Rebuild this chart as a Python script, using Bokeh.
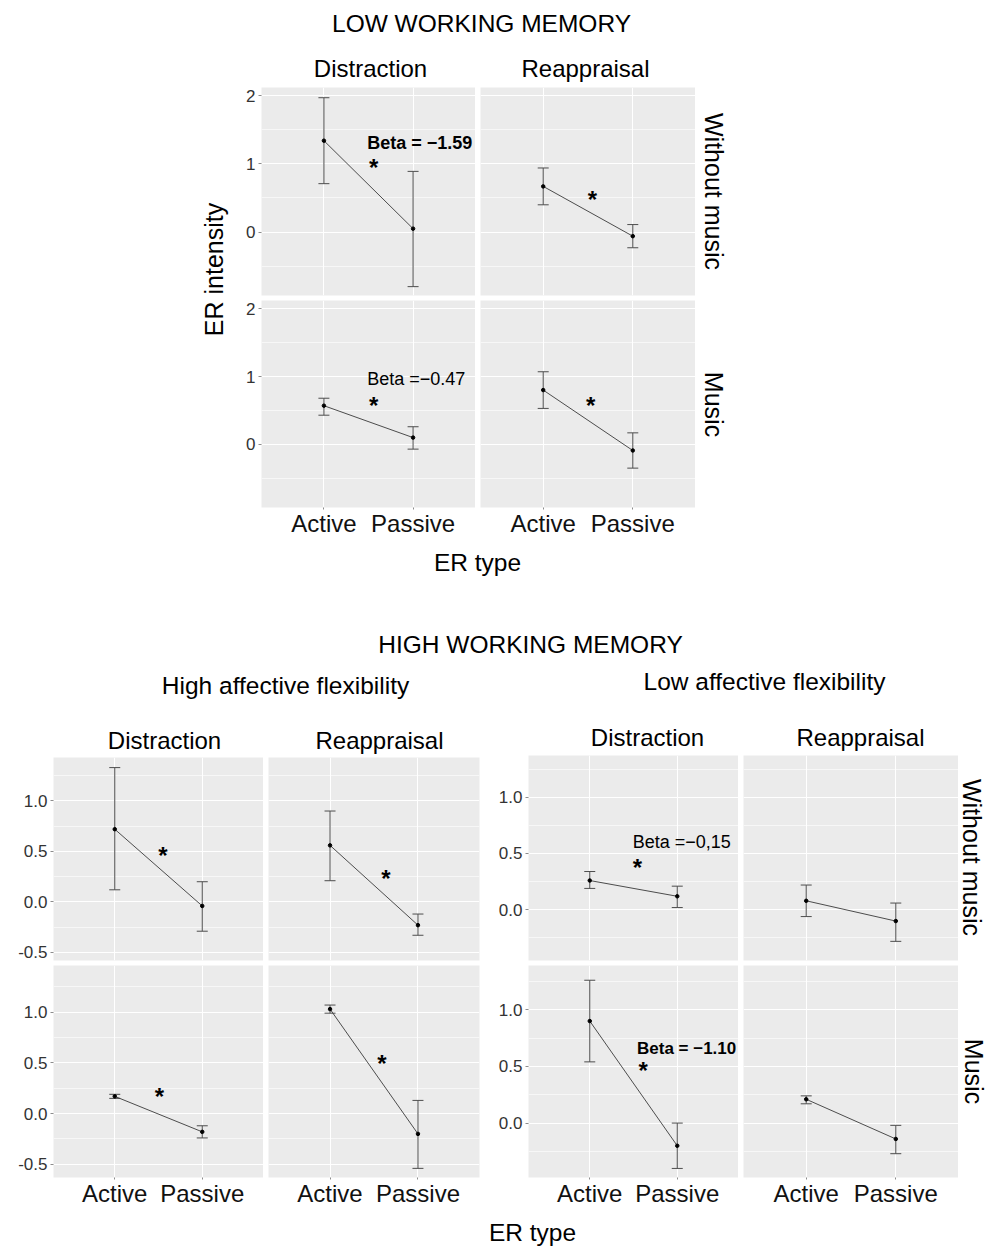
import math
from bokeh.plotting import figure
from bokeh.models import (ColumnDataSource, FactorRange, Range1d, Whisker, TeeHead, Label,
                          Grid, FixedTicker, CategoricalTicker)
from bokeh.layouts import column, row
from bokeh.embed import file_html
from bokeh.resources import INLINE
from bokeh.core.properties import value

FONT = "Liberation Sans"

# ---------------- data ----------------
er_types = ["Active", "Passive"]
strategies = ["Distraction", "Reappraisal"]
music_levels = ["Without music", "Music"]

# LOW WORKING MEMORY
lw_dis_nomusic_mean = [1.34, 0.05]
lw_dis_nomusic_upper = [1.97, 0.89]
lw_dis_nomusic_lower = [0.71, -0.80]
lw_rea_nomusic_mean = [0.67, -0.06]
lw_rea_nomusic_upper = [0.94, 0.11]
lw_rea_nomusic_lower = [0.40, -0.23]
lw_dis_music_mean = [0.57, 0.10]
lw_dis_music_upper = [0.68, 0.26]
lw_dis_music_lower = [0.43, -0.07]
lw_rea_music_mean = [0.80, -0.09]
lw_rea_music_upper = [1.07, 0.17]
lw_rea_music_lower = [0.53, -0.35]

# HIGH WORKING MEMORY - high affective flexibility
hf_dis_nomusic_mean = [0.72, -0.04]
hf_dis_nomusic_upper = [1.33, 0.20]
hf_dis_nomusic_lower = [0.12, -0.29]
hf_rea_nomusic_mean = [0.56, -0.23]
hf_rea_nomusic_upper = [0.90, -0.12]
hf_rea_nomusic_lower = [0.21, -0.33]
hf_dis_music_mean = [0.17, -0.18]
hf_dis_music_upper = [0.19, -0.12]
hf_dis_music_lower = [0.15, -0.24]
hf_rea_music_mean = [1.03, -0.20]
hf_rea_music_upper = [1.07, 0.13]
hf_rea_music_lower = [0.99, -0.54]

# HIGH WORKING MEMORY - low affective flexibility
lf_dis_nomusic_mean = [0.26, 0.12]
lf_dis_nomusic_upper = [0.34, 0.21]
lf_dis_nomusic_lower = [0.19, 0.02]
lf_rea_nomusic_mean = [0.08, -0.10]
lf_rea_nomusic_upper = [0.22, 0.06]
lf_rea_nomusic_lower = [-0.06, -0.28]
lf_dis_music_mean = [0.90, -0.20]
lf_dis_music_upper = [1.26, 0.00]
lf_dis_music_lower = [0.54, -0.40]
lf_rea_music_mean = [0.21, -0.14]
lf_rea_music_upper = [0.24, -0.02]
lf_rea_music_lower = [0.17, -0.27]

# tick values and labels
lw_yticks = [0, 1, 2]
lw_ylabels = ["0", "1", "2"]
lw_yminor = [-0.5, 0.5, 1.5]
hw_yticks = [-0.5, 0.0, 0.5, 1.0]
hw_ylabels = ["-0.5", "0.0", "0.5", "1.0"]
hw_yminor = [-0.25, 0.25, 0.75, 1.25]

# axis limits per facet row
lw_ylim = (-0.93, 2.12)
hf_top_ylim = (-0.58, 1.43)
hf_bot_ylim = (-0.63, 1.46)
lf_top_ylim = (-0.45, 1.37)
lf_bot_ylim = (-0.48, 1.39)

# annotation texts
beta_lw_dis_nomusic = "Beta = \u22121.59"
beta_lw_dis_music = "Beta =\u22120.47"
beta_lf_dis_nomusic = "Beta =\u22120,15"
beta_lf_dis_music = "Beta = \u22121.10"
star = "*"

# ---------------- helpers ----------------
GRID_COLOR = "white"
BG = "#EBEBEB"
BAR_COLOR = "#4d4d4d"


def make_panel(mean, upper, lower, ylim, yticks, ylabels, yminor, width, height,
               mb, show_x, show_y, notes):
    p = figure(width=width, height=height,
               x_range=FactorRange(factors=er_types, range_padding=0.2,
                                   range_padding_units="absolute"),
               y_range=Range1d(*ylim), toolbar_location=None, output_backend="svg",
               x_axis_location="below" if show_x else None,
               y_axis_location="left" if show_y else None,
               background_fill_color=BG, border_fill_color="white",
               outline_line_color=None)
    p.min_border_left, p.min_border_top, p.min_border_right, p.min_border_bottom = mb
    p.center = [c for c in p.center if not isinstance(c, Grid)]
    p.add_layout(Grid(dimension=0, ticker=CategoricalTicker(),
                      grid_line_color=GRID_COLOR, grid_line_width=1))
    p.add_layout(Grid(dimension=1, ticker=FixedTicker(ticks=yticks, minor_ticks=yminor),
                      grid_line_color=GRID_COLOR, grid_line_width=1.1,
                      minor_grid_line_color=GRID_COLOR, minor_grid_line_width=0.6))
    if show_y:
        ax = p.yaxis[0]
        ax.ticker = FixedTicker(ticks=yticks)
        ax.major_label_overrides = {t: l for t, l in zip(yticks, ylabels)}
        ax.axis_line_color = None
        ax.major_tick_line_color = "#8c8c8c"
        ax.major_tick_in = 0
        ax.major_tick_out = 3
        ax.minor_tick_line_color = None
        ax.major_label_text_font = FONT
        ax.major_label_text_font_size = "17px"
        ax.major_label_text_color = "#333333"
        ax.major_label_standoff = 3
    if show_x:
        ax = p.xaxis[0]
        ax.axis_line_color = None
        ax.major_tick_line_color = "#8c8c8c"
        ax.major_tick_in = 0
        ax.major_tick_out = 2
        ax.major_label_text_font = FONT
        ax.major_label_text_font_size = "24px"
        ax.major_label_text_color = "#111111"
        ax.major_label_standoff = 0
        ax.major_label_orientation = "horizontal"

    src = ColumnDataSource(dict(x=er_types, mean=mean, upper=upper, lower=lower))
    p.add_layout(Whisker(source=src, base="x", upper="upper", lower="lower",
                         line_color=BAR_COLOR, line_width=1,
                         upper_head=TeeHead(size=11, line_color=BAR_COLOR, line_width=1),
                         lower_head=TeeHead(size=11, line_color=BAR_COLOR, line_width=1)))
    p.line(x="x", y="mean", source=src, line_color="#3a3a3a", line_width=0.9)
    p.scatter(x="x", y="mean", source=src, size=3.5, color="black")

    for text, off, yv, style, size, align in notes:
        p.text(x=[(er_types[0], off)], y=[yv], text=[text], text_font=value(FONT),
               text_font_size=size, text_font_style=style, text_align=align,
               text_baseline="middle", text_color="black")
    return p


def text_canvas(w, h, x0, y0, items):
    p = figure(width=w, height=h, x_range=Range1d(x0, x0 + w), y_range=Range1d(y0 + h, y0),
               toolbar_location=None, output_backend="svg",
               x_axis_location=None, y_axis_location=None, outline_line_color=None,
               background_fill_color="white", border_fill_color="white")
    p.min_border_left = p.min_border_right = p.min_border_top = p.min_border_bottom = 0
    p.center = [c for c in p.center if not isinstance(c, Grid)]
    for text, x, y, size, angle in items:
        p.add_layout(Label(x=x, y=y, text=text, angle=angle, text_align="center",
                           text_baseline="middle", text_font=FONT, text_font_size=size,
                           text_color="black"))
    return p


# ---------------- LOW WORKING MEMORY block ----------------
lw_args = (lw_ylim, lw_yticks, lw_ylabels, lw_yminor)
TL = make_panel(lw_dis_nomusic_mean, lw_dis_nomusic_upper, lw_dis_nomusic_lower, *lw_args,
                244, 213, (30, 0, 0, 5), False, True,
                [(beta_lw_dis_nomusic, 0.485, 1.31, "bold", "18px", "left"),
                 (star, 0.557, 0.95, "bold", "24px", "center")])
TR = make_panel(lw_rea_nomusic_mean, lw_rea_nomusic_upper, lw_rea_nomusic_lower, *lw_args,
                220, 213, (5, 0, 0, 5), False, False,
                [(star, 0.55, 0.48, "bold", "24px", "center")])
BL = make_panel(lw_dis_music_mean, lw_dis_music_upper, lw_dis_music_lower, *lw_args,
                244, 243, (30, 0, 0, 36), True, True,
                [(beta_lw_dis_music, 0.485, 0.96, "normal", "18px", "left"),
                 (star, 0.557, 0.57, "bold", "24px", "center")])
BR = make_panel(lw_rea_music_mean, lw_rea_music_upper, lw_rea_music_lower, *lw_args,
                220, 243, (5, 0, 0, 36), True, False,
                [(star, 0.53, 0.57, "bold", "24px", "center")])

T_hdr = text_canvas(996, 87, 0, 0, [
    ("LOW WORKING MEMORY", 481, 23, "24.5px", 0),
    (strategies[0], 370, 68, "24px", 0),
    (strategies[1], 585, 68, "24px", 0),
])
T_left = text_canvas(231, 456, 0, 87, [
    ("ER intensity", 213, 269, "25px", math.pi / 2),
])
T_right = text_canvas(301, 456, 695, 87, [
    (music_levels[0], 713, 191, "25px", -math.pi / 2),
    (music_levels[1], 713, 404, "25px", -math.pi / 2),
])
T_bottom1 = text_canvas(996, 57, 0, 543, [
    ("ER type", 477, 562, "24.5px", 0),
])

top_block = column(T_hdr,
                   row(T_left, column(row(TL, TR), row(BL, BR)), T_right),
                   T_bottom1)

# ---------------- HIGH WORKING MEMORY block ----------------
LT = make_panel(hf_dis_nomusic_mean, hf_dis_nomusic_upper, hf_dis_nomusic_lower,
                hf_top_ylim, hw_yticks, hw_ylabels, hw_yminor,
                263, 210, (53, 2, 0, 5), False, True,
                [(star, 0.55, 0.46, "bold", "24px", "center")])
RT = make_panel(hf_rea_nomusic_mean, hf_rea_nomusic_upper, hf_rea_nomusic_lower,
                hf_top_ylim, hw_yticks, hw_ylabels, hw_yminor,
                227, 210, (5, 2, 11, 5), False, False,
                [(star, 0.635, 0.23, "bold", "24px", "center")])
LB = make_panel(hf_dis_music_mean, hf_dis_music_upper, hf_dis_music_lower,
                hf_bot_ylim, hw_yticks, hw_ylabels, hw_yminor,
                263, 248, (53, 0, 0, 36), True, True,
                [(star, 0.51, 0.17, "bold", "24px", "center")])
RB = make_panel(hf_rea_music_mean, hf_rea_music_upper, hf_rea_music_lower,
                hf_bot_ylim, hw_yticks, hw_ylabels, hw_yminor,
                227, 248, (5, 0, 11, 36), True, False,
                [(star, 0.59, 0.49, "bold", "24px", "center")])

RLT = make_panel(lf_dis_nomusic_mean, lf_dis_nomusic_upper, lf_dis_nomusic_lower,
                 lf_top_ylim, hw_yticks, hw_ylabels, hw_yminor,
                 248, 210, (38, 0, 0, 5), False, True,
                 [(beta_lf_dis_nomusic, 0.49, 0.60, "normal", "18px", "left"),
                  (star, 0.545, 0.375, "bold", "24px", "center")])
RRT = make_panel(lf_rea_nomusic_mean, lf_rea_nomusic_upper, lf_rea_nomusic_lower,
                 lf_top_ylim, hw_yticks, hw_ylabels, hw_yminor,
                 220, 210, (5, 0, 0, 5), False, False, [])
RLB = make_panel(lf_dis_music_mean, lf_dis_music_upper, lf_dis_music_lower,
                 lf_bot_ylim, hw_yticks, hw_ylabels, hw_yminor,
                 248, 248, (38, 0, 0, 36), True, True,
                 [(beta_lf_dis_music, 0.54, 0.66, "bold", "17px", "left"),
                  (star, 0.61, 0.465, "bold", "24px", "center")])
RRB = make_panel(lf_rea_music_mean, lf_rea_music_upper, lf_rea_music_lower,
                 lf_bot_ylim, hw_yticks, hw_ylabels, hw_yminor,
                 220, 248, (5, 0, 0, 36), True, False, [])

B_hdr = text_canvas(996, 155, 0, 600, [
    ("HIGH WORKING MEMORY", 530, 644, "24.5px", 0),
    ("High affective flexibility", 285, 685, "24.5px", 0),
    ("Low affective flexibility", 764, 681, "24.5px", 0),
    (strategies[0], 164, 740, "24px", 0),
    (strategies[1], 379, 740, "24px", 0),
    (strategies[0], 647, 737, "24px", 0),
    (strategies[1], 860, 737, "24px", 0),
])
T_right2 = text_canvas(38, 458, 958, 755, [
    (music_levels[0], 971, 857, "25px", -math.pi / 2),
    (music_levels[1], 973, 1071, "25px", -math.pi / 2),
])
B_bottom = text_canvas(996, 33, 0, 1213, [
    ("ER type", 532, 1232, "24.5px", 0),
])

lower_block = column(B_hdr,
                     row(column(row(LT, RT), row(LB, RB)),
                         column(row(RLT, RRT), row(RLB, RRB)),
                         T_right2),
                     B_bottom)

page = column(top_block, lower_block)

open("out.html", "w").write(file_html(page, INLINE, title="ER intensity"))
